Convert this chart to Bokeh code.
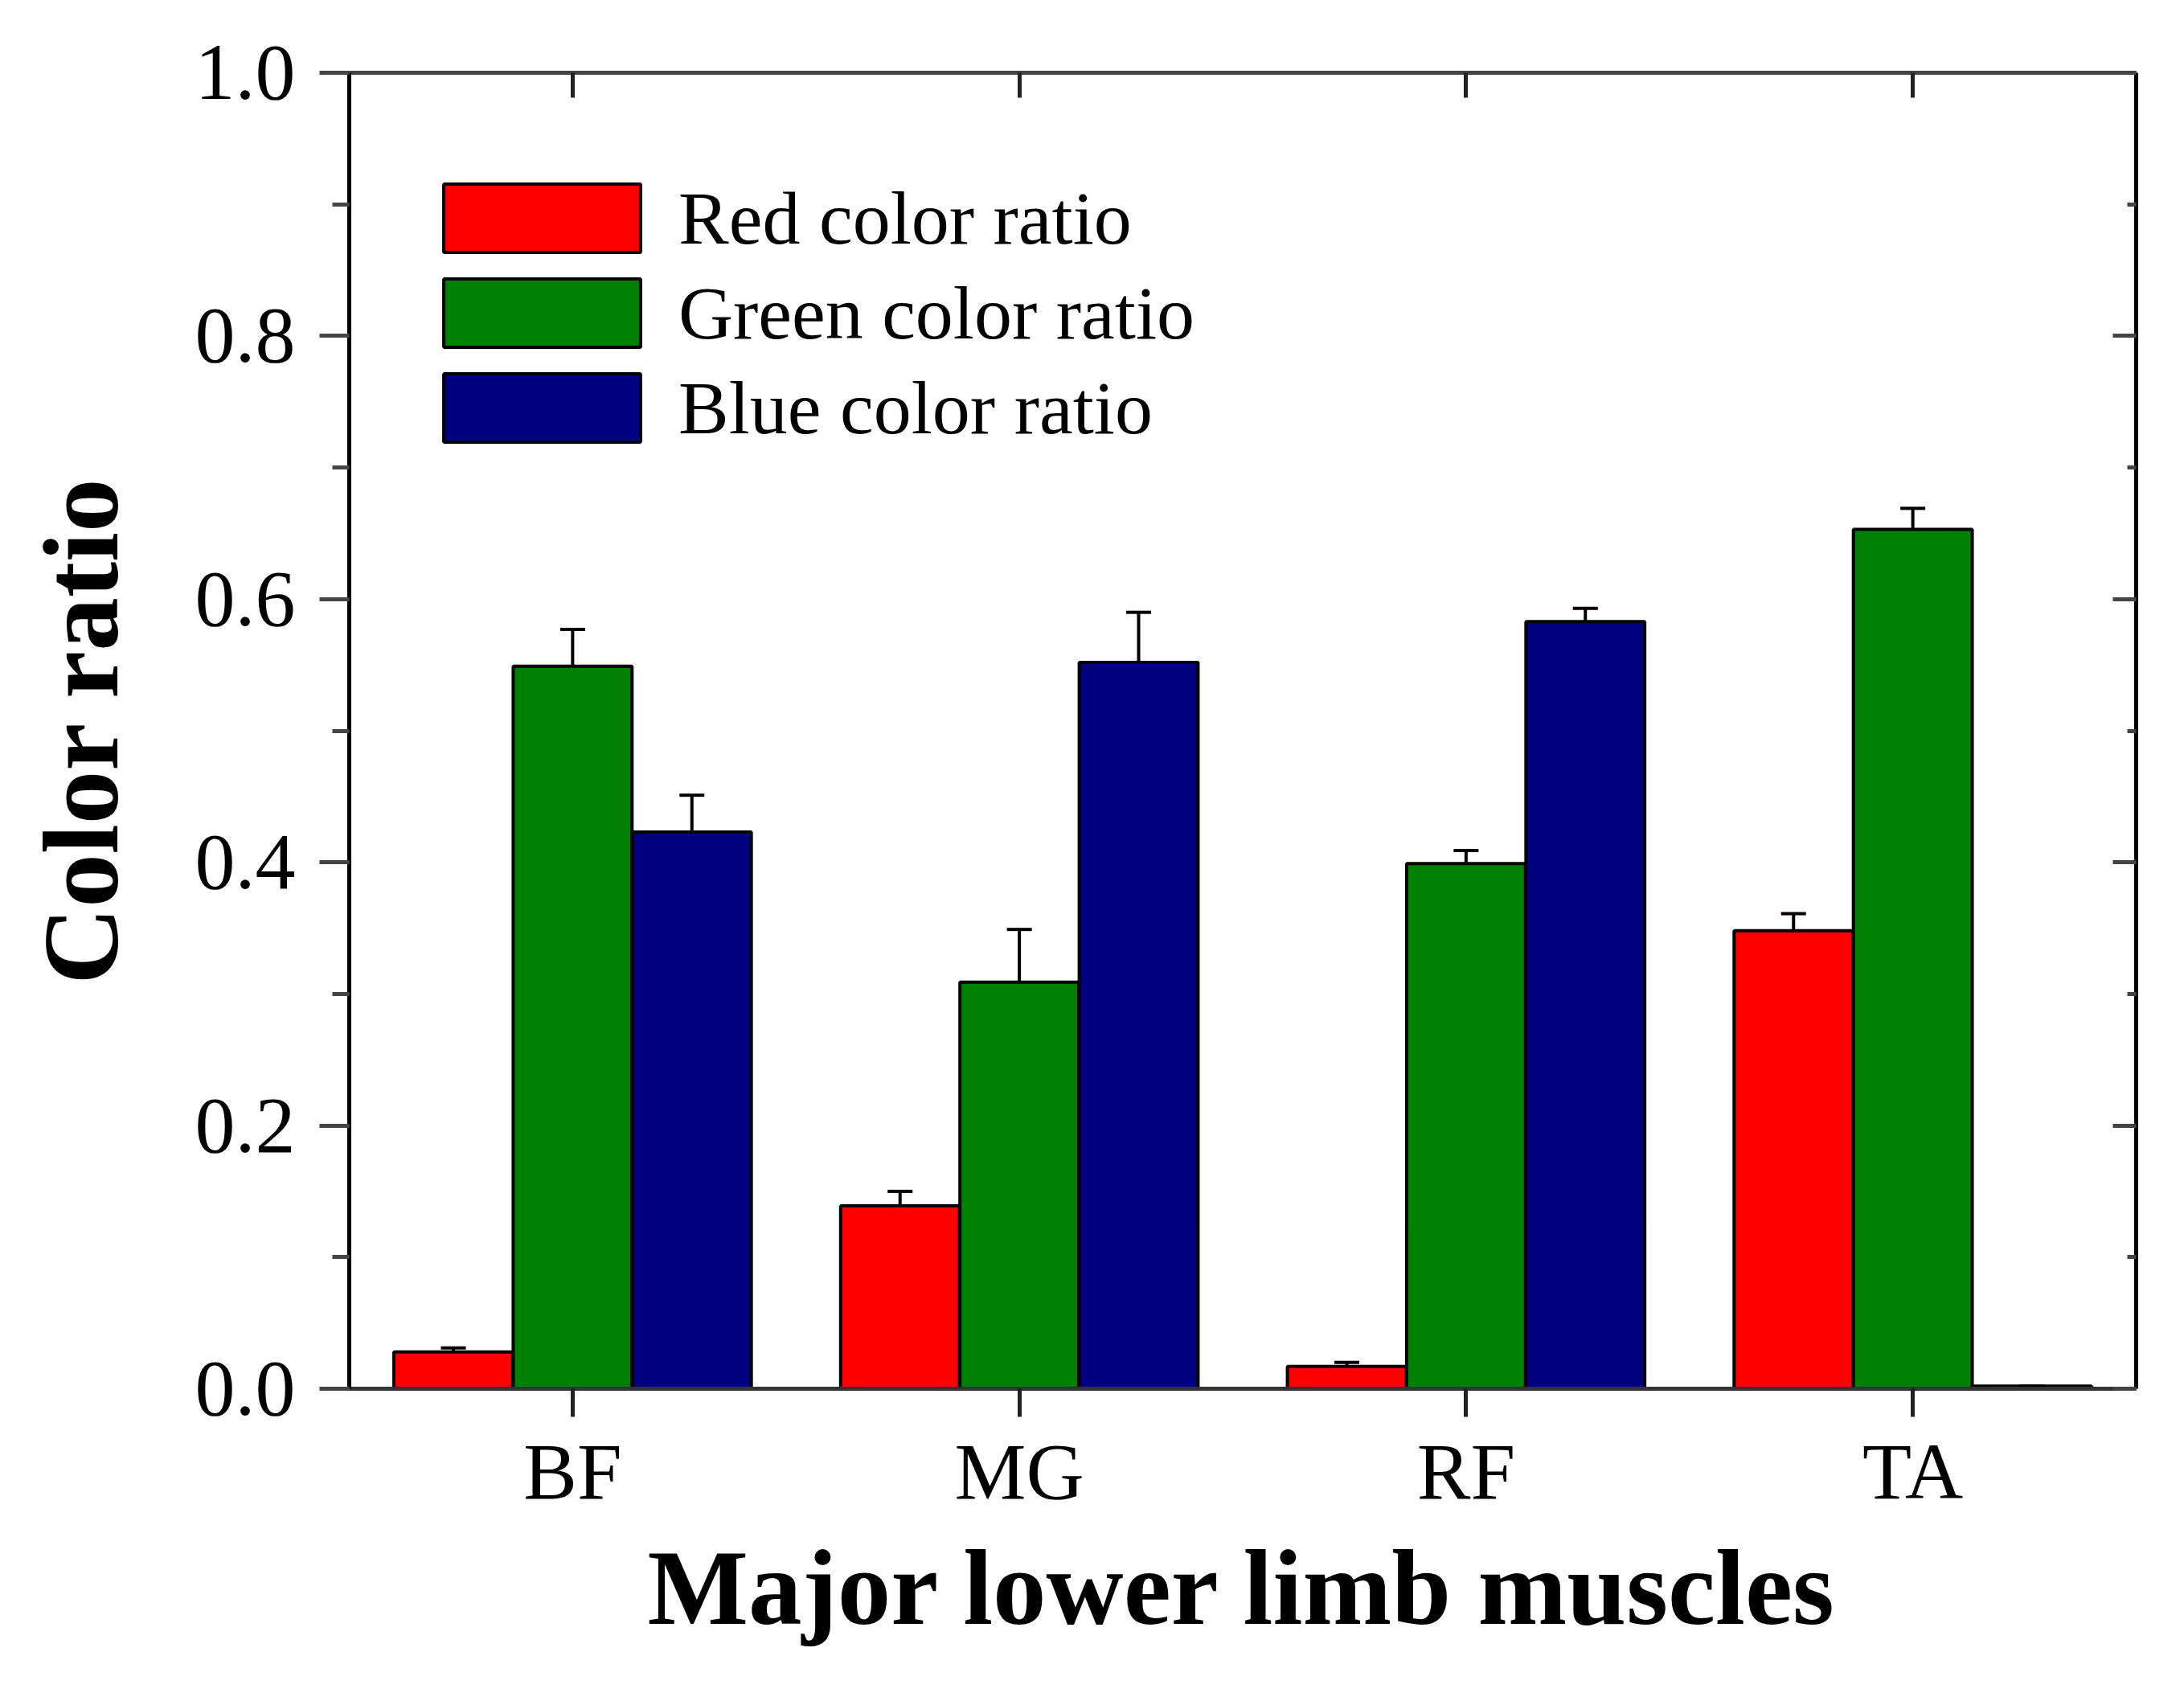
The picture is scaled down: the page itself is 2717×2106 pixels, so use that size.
from bokeh.plotting import figure
from bokeh.models import (ColumnDataSource, Range1d, LinearAxis, FixedTicker,
                          SingleIntervalTicker, NumeralTickFormatter,
                          CustomJSTickFormatter, Whisker, TeeHead, Legend, LegendItem)
from bokeh.embed import file_html
from bokeh.resources import INLINE

# data
muscles = ["BF", "MG", "RF", "TA"]
red_ratio = [0.028, 0.139, 0.017, 0.348]
red_err = [0.003, 0.011, 0.003, 0.013]
green_ratio = [0.549, 0.309, 0.399, 0.653]
green_err = [0.028, 0.040, 0.010, 0.016]
blue_ratio = [0.423, 0.552, 0.583, 0.002]
blue_err = [0.028, 0.038, 0.010, 0.0]

series = [
    ("Red color ratio", red_ratio, red_err, "#ff0000", -0.267),
    ("Green color ratio", green_ratio, green_err, "#008000", 0.0),
    ("Blue color ratio", blue_ratio, blue_err, "#000080", 0.267),
]

SERIF = "Liberation Serif"

p = figure(
    x_range=Range1d(-0.5, 3.5),
    y_range=Range1d(0, 1),
    frame_width=2223,
    frame_height=1637,
    min_border_left=434,
    min_border_top=90,
    min_border_right=43,
    min_border_bottom=363,
    output_backend="svg",
    toolbar_location=None,
    tools="",
)
p.grid.visible = False
p.outline_line_color = None
p.background_fill_color = "white"

# bars + error bars (upper only)
items = []
for name, vals, errs, color, off in series:
    xs = [i + off for i in range(len(muscles))]
    src = ColumnDataSource(data=dict(
        x=xs, top=vals,
        lo=vals, hi=[v + e for v, e in zip(vals, errs)],
    ))
    r = p.vbar(x="x", top="top", bottom=0, width=0.266, source=src,
               fill_color=color, line_color="black", line_width=4)
    items.append(LegendItem(label=name, renderers=[r]))
    w = Whisker(source=src, base="x", lower="lo", upper="hi", dimension="height",
                line_color="black", line_width=4,
                upper_head=TeeHead(size=31, line_color="black", line_width=4),
                lower_head=None)
    p.add_layout(w)

# left axis
ya = p.yaxis[0]
ya.ticker = SingleIntervalTicker(interval=0.2, num_minor_ticks=2)
ya.formatter = NumeralTickFormatter(format="0.0")
ya.axis_label = "Color ratio"
ya.axis_label_text_font = SERIF
ya.axis_label_text_font_style = "bold"
ya.axis_label_text_font_size = "133px"
ya.axis_label_text_color = "black"
ya.axis_label_standoff = 65
ya.major_label_text_font = SERIF
ya.major_label_text_font_size = "100px"
ya.major_label_text_color = "black"
ya.major_label_standoff = 30
ya.major_tick_out = 37
ya.major_tick_in = 0
ya.minor_tick_out = 21
ya.minor_tick_in = 0
ya.axis_line_width = 5
ya.axis_line_color = "black"
ya.major_tick_line_width = 5
ya.minor_tick_line_width = 5
ya.major_tick_line_color = "#444444"
ya.minor_tick_line_color = "#444444"

# bottom axis
xa = p.xaxis[0]
xa.ticker = FixedTicker(ticks=list(range(len(muscles))))
xa.major_label_overrides = {i: m for i, m in enumerate(muscles)}
xa.axis_label = "Major lower limb muscles"
xa.axis_label_text_font = SERIF
xa.axis_label_text_font_style = "bold"
xa.axis_label_text_font_size = "133px"
xa.axis_label_text_color = "black"
xa.axis_label_standoff = 12
xa.major_label_text_font = SERIF
xa.major_label_text_font_size = "100px"
xa.major_label_text_color = "black"
xa.major_label_standoff = 12
xa.major_tick_out = 35
xa.major_tick_in = 0
xa.axis_line_width = 5
xa.axis_line_color = "#333333"
xa.major_tick_line_width = 5
xa.major_tick_line_color = "#222222"

blank = CustomJSTickFormatter(code="return ''")

# top axis: ticks inward at categories
ta = LinearAxis(ticker=FixedTicker(ticks=list(range(len(muscles)))), formatter=blank)
ta.major_tick_in = 31
ta.major_tick_out = 0
ta.axis_line_width = 5
ta.axis_line_color = "#444444"
ta.major_tick_line_width = 5
ta.major_tick_line_color = "#222222"
ta.major_label_text_font_size = "0px"
p.add_layout(ta, "above")

# right axis: ticks inward
ra = LinearAxis(ticker=SingleIntervalTicker(interval=0.2, num_minor_ticks=2), formatter=blank)
ra.major_tick_in = 29
ra.major_tick_out = 0
ra.minor_tick_in = 11
ra.minor_tick_out = 0
ra.axis_line_width = 5
ra.axis_line_color = "black"
ra.major_tick_line_width = 5
ra.minor_tick_line_width = 5
ra.major_tick_line_color = "#444444"
ra.minor_tick_line_color = "#444444"
ra.major_label_text_font_size = "0px"
p.add_layout(ra, "right")

# legend swatches are inset 10% by bokeh, so the glyph box is a bit larger
legend = Legend(
    items=items,
    location=(87, 1166),
    glyph_width=306,
    glyph_height=106,
    label_standoff=17,
    spacing=10,
    padding=0,
    margin=0,
    border_line_color=None,
    background_fill_alpha=0,
    label_text_font=SERIF,
    label_text_font_size="94px",
    label_text_color="black",
)
p.add_layout(legend)

open("out.html", "w").write(file_html(p, INLINE))
